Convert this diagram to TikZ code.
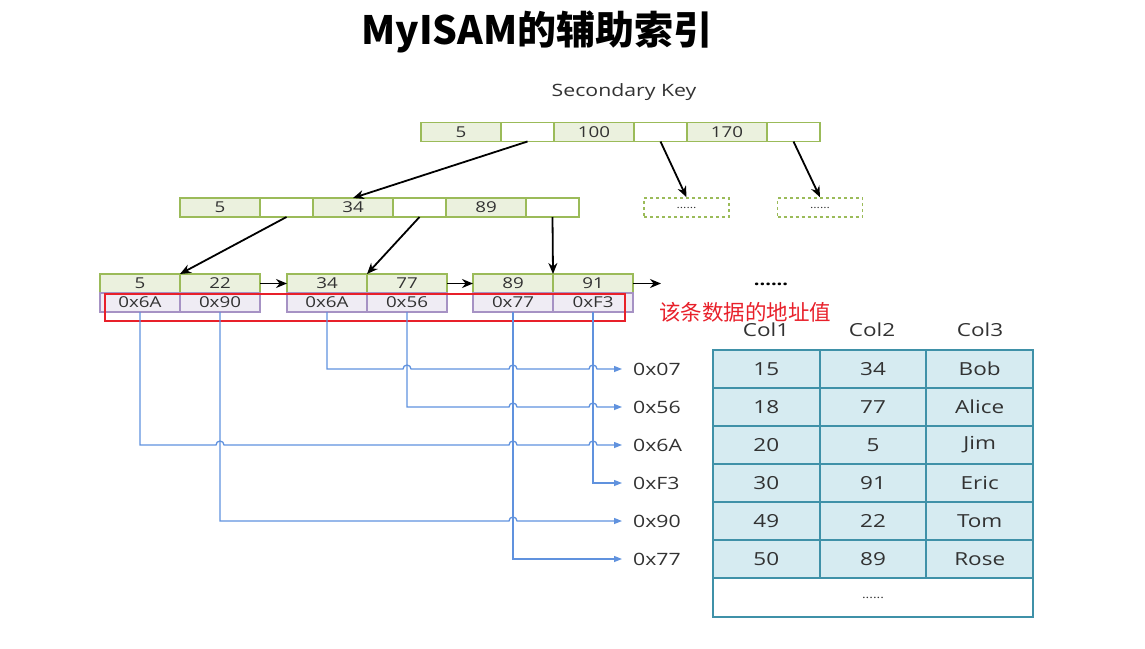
\documentclass[tikz,border=0pt]{standalone}
\usepackage{fontspec}
\setmainfont{Open Sans}[FakeStretch=1.25]
\newfontfamily\cjk{Noto Sans CJK SC}
\usetikzlibrary{arrows.meta,positioning,calc}

\definecolor{kborder}{RGB}{155,187,89}
\definecolor{kfill}{RGB}{235,241,222}
\definecolor{aborder}{RGB}{166,146,196}
\definecolor{afill}{RGB}{239,236,244}
\definecolor{tborder}{RGB}{63,145,168}
\definecolor{tfill}{RGB}{214,235,241}
\definecolor{pline}{RGB}{96,146,222}
\definecolor{boxred}{RGB}{232,32,42}
\definecolor{txt}{RGB}{50,50,50}

\newcommand\cellfont{\fontsize{15}{15}\selectfont}
\newcommand\tabfont{\fontsize{18}{18}\selectfont}

\tikzset{
  keycell/.style = {draw=kborder, fill=kfill, line width=1.7pt, minimum width=80pt, minimum height=19pt, inner sep=0pt, outer sep=0pt, font=\cellfont, text=txt},
  ptrcell/.style = {keycell, fill=white, minimum width=53pt},
  addrcell/.style = {draw=aborder, fill=afill, line width=1.7pt, minimum width=80pt, minimum height=19pt, inner sep=0pt, outer sep=0pt, font=\cellfont, text=txt},
  dashcell/.style = {draw=kborder, dashed, line width=1.5pt, minimum width=85pt, minimum height=19pt, inner sep=0pt, font=\fontsize{10}{10}\selectfont, text=txt},
  datacell/.style = {draw=tborder, fill=tfill, line width=1.8pt, minimum width=106.7pt, minimum height=38pt, inner sep=0pt, font=\tabfont, text=txt},
  treearrow/.style = {-{Stealth[length=11pt,width=9pt]}, line width=1.8pt},
  addrline/.style = {pline, line width=1.3pt, -{Triangle[length=8pt,width=6pt]}}
}

\begin{document}
\begin{tikzpicture}[x=1pt, y=-1pt]
\useasboundingbox (0,0) rectangle (1145,648);

% title
\node (title) at (537,32) {\cjk\bfseries\fontsize{39}{39}\selectfont MyISAM的辅助索引};
\node[text=txt, font=\fontsize{17}{17}\selectfont] (sk) at (624,92) {Secondary Key};

% root
\node[keycell, anchor=west] (t1) at (421,132) {5};
\node[ptrcell, right=0pt of t1] (t2) {};
\node[keycell, right=0pt of t2] (t3) {100};
\node[ptrcell, right=0pt of t3] (t4) {};
\node[keycell, right=0pt of t4] (t5) {170};
\node[ptrcell, right=0pt of t5] (t6) {};

% second level
\node[keycell, anchor=west] (m1) at (180,207.5) {5};
\node[ptrcell, right=0pt of m1] (m2) {};
\node[keycell, right=0pt of m2] (m3) {34};
\node[ptrcell, right=0pt of m3] (m4) {};
\node[keycell, right=0pt of m4] (m5) {89};
\node[ptrcell, right=0pt of m5] (m6) {};
\node[dashcell] (d1) at (686.5,207.5) {......};
\node[dashcell] (d2) at (820,207.5) {......};

% leaves
\node[keycell, anchor=west] (l1a) at (100,283.5) {5};
\node[keycell, right=0pt of l1a] (l1b) {22};
\node[keycell, anchor=west] (l2a) at (287,283.5) {34};
\node[keycell, right=0pt of l2a] (l2b) {77};
\node[keycell, anchor=west] (l3a) at (473,283.5) {89};
\node[keycell, right=0pt of l3a] (l3b) {91};
\node[addrcell, below=0pt of l1a] (a1a) {0x6A};
\node[addrcell, below=0pt of l1b] (a1b) {0x90};
\node[addrcell, below=0pt of l2a] (a2a) {0x6A};
\node[addrcell, below=0pt of l2b] (a2b) {0x56};
\node[addrcell, below=0pt of l3a] (a3a) {0x77};
\node[addrcell, below=0pt of l3b] (a3b) {0xF3};
\coordinate (lnext) at (661,283.5);
\node[font=\fontsize{16}{16}\selectfont\bfseries] (more) at (771,284) {......};

% tree pointers
\draw[treearrow] (t2.south) -- (m3.north);
\draw[treearrow] (t4.south) -- (d1.north);
\draw[treearrow] (t6.south) -- (d2.north);
\draw[treearrow] (m2.south) -- (l1a.north east);
\draw[treearrow] (m4.south) -- (l2a.north east);
\draw[treearrow] (m6.south) -- (l3a.north east);
\draw[treearrow] (l1b.east) -- (l2a.west);
\draw[treearrow] (l2b.east) -- (l3a.west);
\draw[treearrow] (l3b.east) -- (lnext);

% address marker
\draw[boxred, line width=2.6pt] (105,294) rectangle (625,321);
\node[text=boxred, font=\cjk\fontsize{21.5}{21.5}\selectfont] (note) at (745,312) {该条数据的地址值};

% table
\node[text=txt, font=\tabfont] (h1) at (766,330) {Col1};
\node[text=txt, font=\tabfont] (h2) at (872,330) {Col2};
\node[text=txt, font=\tabfont] (h3) at (980,330) {Col3};
\foreach \a/\b/\c/\p [count=\i] in {15/34/Bob/0x07, 18/77/Alice/0x56, 20/5/Jim/0x6A, 30/91/Eric/0xF3, 49/22/Tom/0x90, 50/89/Rose/0x77} {
  \node[datacell] (r\i a) at (766.3,{331+38*\i}) {\a};
  \node[datacell] (r\i b) at (873,{331+38*\i}) {\b};
  \node[datacell] (r\i c) at (979.7,{331+38*\i}) {\c};
  \node[anchor=west, text=txt, font=\fontsize{17}{17}\selectfont, inner sep=0pt] (p\i) at (633,{331+38*\i}) {\p};
}
\node[datacell, fill=white, minimum width=320pt, minimum height=39pt, font=\fontsize{11}{11}\selectfont] (rend) at (873,597.5) {......};

% address links
\draw[addrline] (a2a.south) |- ($(a2b.south |- p1)+(-4pt,0)$) arc[start angle=180, end angle=0, radius=4pt]
  -- ($(a3a.south |- p1)+(-4pt,0)$) arc[start angle=180, end angle=0, radius=4pt]
  -- ($(a3b.south |- p1)+(-4pt,0)$) arc[start angle=180, end angle=0, radius=4pt]
  -- ([xshift=-11pt]p1.west);
\draw[addrline] (a2b.south) |- ($(a3a.south |- p2)+(-4pt,0)$) arc[start angle=180, end angle=0, radius=4pt]
  -- ($(a3b.south |- p2)+(-4pt,0)$) arc[start angle=180, end angle=0, radius=4pt]
  -- ([xshift=-11pt]p2.west);
\draw[addrline] (a1a.south) |- ($(a1b.south |- p3)+(-4pt,0)$) arc[start angle=180, end angle=0, radius=4pt]
  -- ($(a3a.south |- p3)+(-4pt,0)$) arc[start angle=180, end angle=0, radius=4pt]
  -- ($(a3b.south |- p3)+(-4pt,0)$) arc[start angle=180, end angle=0, radius=4pt]
  -- ([xshift=-11pt]p3.west);
\draw[addrline] (a3b.south) |- ([xshift=-11pt]p4.west);
\draw[addrline] (a1b.south) |- ($(a3a.south |- p5)+(-4pt,0)$) arc[start angle=180, end angle=0, radius=4pt]
  -- ([xshift=-11pt]p5.west);
\draw[addrline] (a3a.south) |- ([xshift=-11pt]p6.west);
\end{tikzpicture}
\end{document}
